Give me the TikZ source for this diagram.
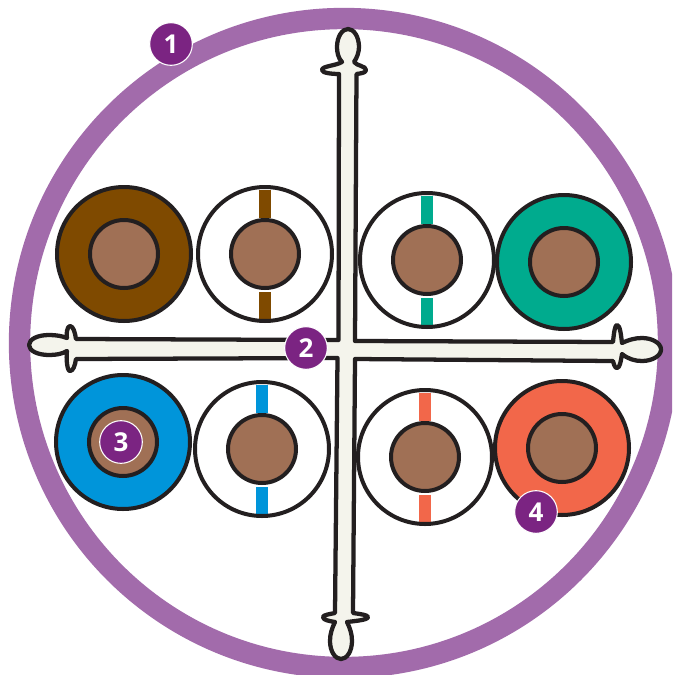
\documentclass[tikz,border=0pt]{standalone}
\usepackage{fontspec}
\setmainfont{Open Sans}
\definecolor{ringc}{HTML}{A26BAB}
\definecolor{badgec}{HTML}{7B2482}
\definecolor{inkc}{HTML}{231F20}
\definecolor{corec}{HTML}{A07055}
\definecolor{creamc}{HTML}{F4F4EC}
\definecolor{brownc}{HTML}{7F4A00}
\definecolor{greenc}{HTML}{00AB8E}
\definecolor{bluec}{HTML}{0095DA}
\definecolor{orangec}{HTML}{F2674A}
\tikzset{
  ring/.style={draw=ringc,line width=16pt},
  disc/.style={draw=inkc,line width=3pt},
  core/.style={draw=inkc,line width=3pt,fill=corec},
  spine/.style={draw=inkc,line width=3.2pt,fill=creamc,line join=round},
  badge/.style={circle,fill=badgec,draw=white,line width=0.8pt,minimum size=32pt,inner sep=0pt,text=white,font=\fontsize{19.5pt}{20pt}\selectfont\bfseries},
}
\newcommand{\cable}[4]{% x, y, fill, stripe colour or none
  \ifx#4\relax
    \fill[#3] (#1,#2) circle (67);
    \draw[disc] (#1,#2) circle (67);
  \else
    \fill[white] (#1,#2) circle (67);
    \fill[#4] (#1-6,#2-64) rectangle (#1+6,#2-36);
    \fill[#4] (#1-6,#2+38) rectangle (#1+6,#2+66);
    \draw[disc] (#1,#2) circle (67);
  \fi
  \draw[core] (#1,#2) circle (34);
}
\begin{document}
\begin{tikzpicture}[x=0.75pt,y=-0.75pt]
\useasboundingbox (0,0) rectangle (672,675);
\clip (0,0) rectangle (672,675);
\fill[white] (0,0) rectangle (672,675);
\draw[ring] (344,343) circle (324.5);
\cable{124}{254}{brownc}{\relax}
\cable{265}{254}{white}{brownc}
\cable{427}{260}{white}{greenc}
\cable{564}{262}{greenc}{\relax}
\cable{123}{442}{bluec}{\relax}
\cable{262}{449}{white}{bluec}
\cable{425}{457}{white}{orangec}
\cable{562}{448}{orangec}{\relax}
\draw[spine] (338.5,340)
  -- (76,339)
  .. controls (75,332) and (73,326) .. (70,326)
  .. controls (67,326) and (66,335) .. (67,338)
  .. controls (62,336) and (56,335) .. (49,335)
  .. controls (38,335) and (29,339) .. (29,345)
  .. controls (29,351) and (38,355) .. (49,355)
  .. controls (56,355) and (62,354) .. (67,351)
  .. controls (66,358) and (67,371) .. (70,371)
  .. controls (73,371) and (75,366) .. (76,359)
  -- (337.5,358)
  -- (335,613)
  .. controls (330,614) and (323,615) .. (323,617)
  .. controls (323,620) and (329,621) .. (335,622)
  .. controls (332,628) and (330,634) .. (330,641)
  .. controls (330,651) and (335,659) .. (341,659)
  .. controls (347,659) and (352,651) .. (352,641)
  .. controls (352,634) and (350,628) .. (347,622)
  .. controls (355,621) and (368,620) .. (368,617)
  .. controls (368,615) and (360,614) .. (353,613)
  -- (355,359)
  -- (613,361)
  .. controls (614,365) and (615,368) .. (617,368)
  .. controls (620,368) and (621,360) .. (622,354)
  .. controls (628,359) and (635,361) .. (642,361)
  .. controls (652,361) and (661,356) .. (661,349.5)
  .. controls (661,343) and (652,338) .. (642,338)
  .. controls (635,338) and (628,340) .. (622,343)
  .. controls (621,335) and (620,325) .. (617,325)
  .. controls (615,325) and (614,332) .. (613,342)
  -- (355,341)
  -- (356.5,74)
  .. controls (360,73.5) and (366,73) .. (366,70)
  .. controls (366,66) and (357,66) .. (354,62)
  .. controls (357,58) and (359,52) .. (359,47)
  .. controls (359,37) and (354,29) .. (348,29)
  .. controls (342,29) and (337,37) .. (337,47)
  .. controls (337,52) and (338,58) .. (342,62)
  .. controls (335,66) and (322,66) .. (322,70)
  .. controls (322,73) and (332,74) .. (339,74)
  -- cycle;
\node[badge] (b1) at (171,44) {1};
\node[badge] (b2) at (306,348) {2};
\node[badge] (b3) at (121,442) {3};
\node[badge] (b4) at (536,512) {4};
\end{tikzpicture}
\end{document}
